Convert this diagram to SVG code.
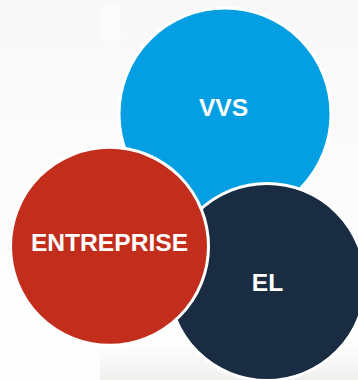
<svg xmlns="http://www.w3.org/2000/svg" width="358" height="380" viewBox="0 0 358 380">
<defs>
<linearGradient id="bg" x1="0" y1="0" x2="0" y2="1">
<stop offset="0" stop-color="#f8f8f8"/><stop offset="0.4" stop-color="#fbfbfb"/><stop offset="0.88" stop-color="#fefefe"/><stop offset="1" stop-color="#fdfdfd"/>
</linearGradient>
<linearGradient id="floor" x1="0" y1="0" x2="0" y2="1">
<stop offset="0" stop-color="#f0f0ef" stop-opacity="0"/><stop offset="1" stop-color="#f0f0ef"/>
</linearGradient>
<filter id="soft"><feGaussianBlur stdDeviation="2"/></filter>
</defs>
<style>
.c{stroke:#fff;stroke-width:3}
.t{font-family:"Liberation Sans",Arial,sans-serif;font-weight:700;fill:#fff;text-anchor:middle;font-size:24.600px}
</style>
<rect width="358" height="380" fill="url(#bg)"/>
<rect x="100" y="345" width="258" height="35" fill="url(#floor)"/>
<g filter="url(#soft)" fill="#fcfcfc">
<rect x="102" y="5" width="18" height="35"/>
<rect x="-5" y="125" width="125" height="25"/>
</g>
<g id="connectors"/>
<g id="vvs"><circle class="c" cx="225" cy="114" r="106" fill="#049fe2"/><text class="t" x="223.500" y="115.500">VVS</text></g>
<g id="el"><circle class="c" cx="267" cy="282" r="98.500" fill="#1a2c42"/><text class="t" x="267.500" y="291">EL</text></g>
<g id="entreprise"><circle class="c" cx="109.500" cy="246.300" r="99" fill="#c32d1b"/><text class="t" x="109.500" y="251">ENTREPRISE</text></g>
</svg>
